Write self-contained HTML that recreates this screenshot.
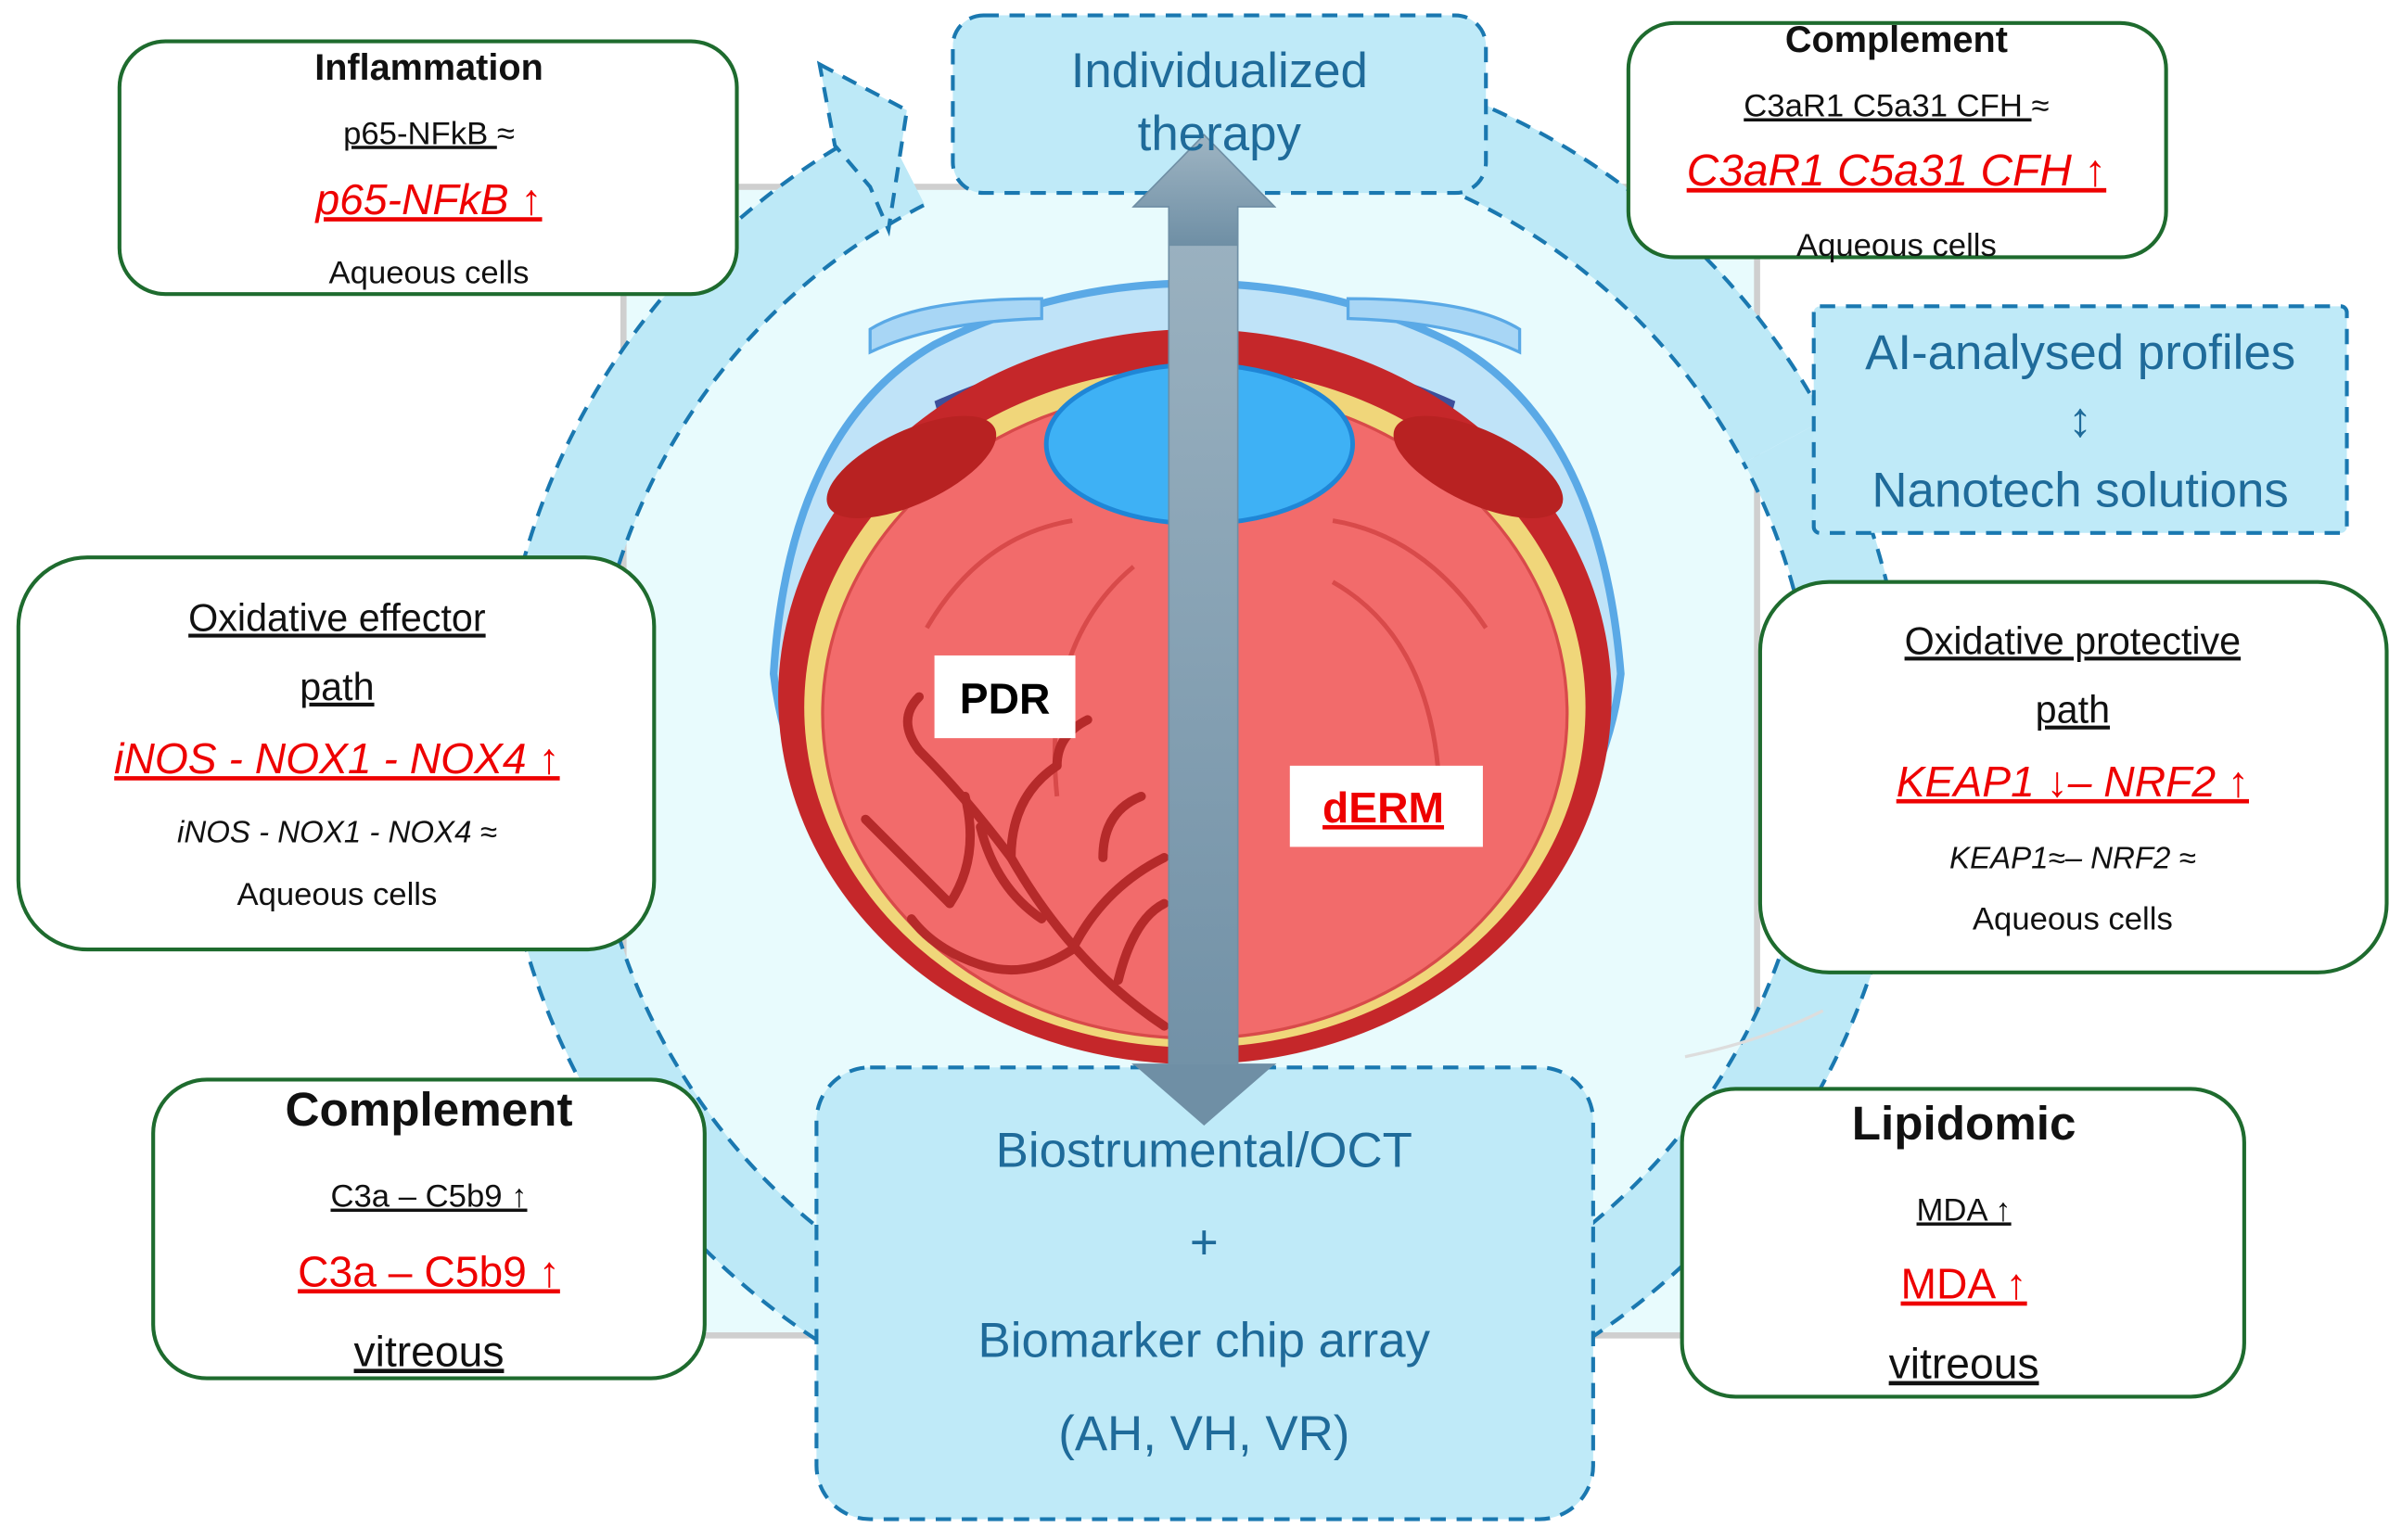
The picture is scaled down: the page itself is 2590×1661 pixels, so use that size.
<!DOCTYPE html>
<html><head><meta charset="utf-8"><style>
html,body{margin:0;padding:0;background:#fff;}
svg{display:block;}
text{font-family:"Liberation Sans",sans-serif;}
</style></head><body>
<svg width="2590" height="1661" viewBox="0 0 1568 1005.6" preserveAspectRatio="none" xmlns="http://www.w3.org/2000/svg">
<defs>
<linearGradient id="ag" x1="0" y1="0" x2="0" y2="1"><stop offset="0" stop-color="#9fb5c3"/><stop offset="1" stop-color="#6f8fa5"/></linearGradient>
</defs>
<rect width="1568" height="1006" fill="#fff"/>
<!-- center panel -->
<rect x="407" y="122" width="740" height="750" fill="#e8fbfd" stroke="#cfcfcf" stroke-width="4"/>
<!-- ring -->
<g transform="translate(785 490)">
<path d="M -195 -383 A 430 430 0 1 0 380 -202" fill="none" stroke="#bde9f7" stroke-width="60"/>
<path d="M 133 -409 A 430 430 0 0 1 380 -202" fill="none" stroke="#bde9f7" stroke-width="60"/>
<path d="M -209 -410 A 460 460 0 1 0 406 -216" fill="none" stroke="#1a78b0" stroke-width="2.5" stroke-dasharray="10 7"/>
<path d="M -182 -356 A 400 400 0 1 0 353 -188" fill="none" stroke="#1a78b0" stroke-width="2.5" stroke-dasharray="10 7"/>
<path d="M 142 -437 A 460 460 0 0 1 406 -216" fill="none" stroke="#1a78b0" stroke-width="2.5" stroke-dasharray="10 7"/>
<path d="M 124 -380 A 400 400 0 0 1 353 -188" fill="none" stroke="#1a78b0" stroke-width="2.5" stroke-dasharray="10 7"/>
</g>
<polygon points="535,42 592,72 580,150 568,122 545,95" fill="#bde9f7" stroke="#1a78b0" stroke-width="2.5" stroke-dasharray="10 7"/>
<!-- eye -->
<path d="M 505 440 Q 515 280 610 225 Q 690 185 780 185 Q 870 185 950 225 Q 1045 280 1058 440 A 278 255 0 0 1 505 440 Z" fill="#bfe3f8" stroke="#5aa9e6" stroke-width="5"/>
<path d="M568 215 Q 600 195 680 195 L 680 208 Q 610 210 568 230 Z" fill="#a8d6f5" stroke="#5aa9e6" stroke-width="2"/>
<path d="M992 215 Q 960 195 880 195 L 880 208 Q 950 210 992 230 Z" fill="#a8d6f5" stroke="#5aa9e6" stroke-width="2"/>
<path d="M610 262 Q 700 222 770 232 L 770 252 Q 700 248 615 280 Z" fill="#3d4f9a"/>
<path d="M950 262 Q 860 222 790 232 L 790 252 Q 860 248 945 280 Z" fill="#3d4f9a"/>
<ellipse cx="780" cy="455" rx="272" ry="240" fill="#c5272a"/>
<ellipse cx="780" cy="462" rx="255" ry="222" fill="#f0d67a"/>
<ellipse cx="780" cy="466" rx="243" ry="212" fill="#f26b6b" stroke="#d84a4a" stroke-width="2"/>
<ellipse cx="595" cy="305" rx="60" ry="24" fill="#b82222" transform="rotate(-25 595 305)"/>
<ellipse cx="965" cy="305" rx="60" ry="24" fill="#b82222" transform="rotate(25 965 305)"/>
<ellipse cx="783" cy="290" rx="100" ry="52" fill="#3eb1f5" stroke="#1f86d6" stroke-width="3"/>
<g fill="none" stroke="#d84a4a" stroke-width="3">
<path d="M605 410 Q 640 350 700 340"/><path d="M690 520 Q 680 420 740 370"/>
<path d="M970 410 Q 930 350 870 340"/><path d="M940 530 Q 940 420 870 380"/>
</g>
<g fill="none" stroke="#b52a2a" stroke-width="6" stroke-linecap="round">
<path d="M760 670 Q 700 630 660 560 Q 630 520 600 490"/><path d="M660 560 Q 660 520 690 500"/>
<path d="M700 620 Q 720 580 760 560"/><path d="M620 590 Q 590 560 565 535"/>
<path d="M680 600 Q 650 580 640 540"/><path d="M730 640 Q 740 600 760 590"/>
<path d="M700 620 Q 670 640 640 630"/><path d="M720 560 Q 720 530 745 520"/>
<path d="M620 590 Q 640 560 630 520"/><path d="M600 490 Q 585 470 600 455"/>
<path d="M690 500 Q 690 480 710 470"/><path d="M640 630 Q 610 620 595 600"/>
</g>
<path d="M1100 690 Q 1150 680 1190 660" stroke="#ddd" stroke-width="2" fill="none"/>
<!-- vertical arrow -->
<polygon points="786,88 832,135 808,135 808,695 832,695 786,735 740,695 763,695 763,135 740,135" fill="url(#ag)" stroke="#6f8fa5" stroke-width="1"/>
<!-- labels -->
<rect x="610" y="428" width="92" height="54" fill="#fff"/>
<text x="656" y="466" font-size="28" font-weight="bold" text-anchor="middle">PDR</text>
<rect x="842" y="500" width="126" height="53" fill="#fff"/>
<text x="903" y="537" font-size="28" font-weight="bold" text-anchor="middle" fill="#e00" text-decoration="underline">dERM</text>
<!-- dashed blue boxes -->
<g fill="#bfeaf8" stroke="#1a78b0" stroke-width="2.5" stroke-dasharray="10 7">
<rect x="622" y="10" width="348" height="116" rx="20"/>
<rect x="1184" y="200" width="348" height="148" rx="4"/>
<rect x="533" y="697" width="507" height="295" rx="35"/>
</g>
<polygon points="786,88 832,135 808,135 808,160 763,160 763,135 740,135" fill="url(#ag)" stroke="#6f8fa5"/>
<g fill="#1f6b9a" font-size="32" text-anchor="middle">
<text x="796" y="57">Individualized</text><text x="796" y="98">therapy</text>
<text x="1358" y="241">AI-analysed profiles</text><text x="1358" y="285">↕</text><text x="1358" y="331">Nanotech solutions</text>
<text x="786" y="762">Biostrumental/OCT</text><text x="786" y="822">+</text><text x="786" y="886">Biomarker chip array</text><text x="786" y="947">(AH, VH, VR)</text>
</g>
<polygon points="786,735 832,695 740,695" fill="#6f8fa5"/>
<!-- green boxes -->
<g fill="#fff" stroke="#1e6b2e" stroke-width="2.5">
<rect x="78" y="27" width="403" height="165" rx="30"/>
<rect x="1063" y="15" width="351" height="153" rx="30"/>
<rect x="12" y="364" width="415" height="256" rx="45"/>
<rect x="1149" y="380" width="409" height="255" rx="45"/>
<rect x="100" y="705" width="360" height="195" rx="35"/>
<rect x="1098" y="711" width="367" height="201" rx="35"/>
</g>
<g text-anchor="middle" fill="#111">
<text x="280" y="52" font-size="24" font-weight="bold">Inflammation</text>
<text x="280" y="94" font-size="21"><tspan text-decoration="underline">p65-NFkB </tspan>≈</text>
<text x="280" y="140" font-size="28" fill="#e00" font-style="italic" text-decoration="underline">p65-NFkB ↑</text>
<text x="280" y="185" font-size="21">Aqueous cells</text>

<text x="1238" y="34" font-size="24" font-weight="bold">Complement</text>
<text x="1238" y="76" font-size="21"><tspan text-decoration="underline">C3aR1 C5a31 CFH </tspan>≈</text>
<text x="1238" y="121" font-size="29" fill="#e00" font-style="italic" text-decoration="underline">C3aR1 C5a31 CFH ↑</text>
<text x="1238" y="167" font-size="21">Aqueous cells</text>

<text x="220" y="412" font-size="25" text-decoration="underline">Oxidative effector</text>
<text x="220" y="457" font-size="25" text-decoration="underline">path</text>
<text x="220" y="505" font-size="28" fill="#e00" font-style="italic" text-decoration="underline">iNOS - NOX1 - NOX4 ↑</text>
<text x="220" y="550" font-size="20" font-style="italic">iNOS - NOX1 - NOX4 ≈</text>
<text x="220" y="591" font-size="21">Aqueous cells</text>

<text x="1353" y="427" font-size="25" text-decoration="underline">Oxidative protective</text>
<text x="1353" y="472" font-size="25" text-decoration="underline">path</text>
<text x="1353" y="520" font-size="28" fill="#e00" font-style="italic" text-decoration="underline">KEAP1 ↓– NRF2 ↑</text>
<text x="1353" y="567" font-size="20" font-style="italic">KEAP1≈– NRF2 ≈</text>
<text x="1353" y="607" font-size="21">Aqueous cells</text>

<text x="280" y="735" font-size="31" font-weight="bold">Complement</text>
<text x="280" y="788" font-size="21" text-decoration="underline">C3a – C5b9 ↑</text>
<text x="280" y="840" font-size="28" fill="#e00" text-decoration="underline">C3a – C5b9 ↑</text>
<text x="280" y="892" font-size="28" text-decoration="underline">vitreous</text>

<text x="1282" y="744" font-size="31" font-weight="bold">Lipidomic</text>
<text x="1282" y="797" font-size="21" text-decoration="underline">MDA ↑</text>
<text x="1282" y="848" font-size="28" fill="#e00" text-decoration="underline">MDA ↑</text>
<text x="1282" y="900" font-size="28" text-decoration="underline">vitreous</text>
</g>
</svg>
</body></html>
